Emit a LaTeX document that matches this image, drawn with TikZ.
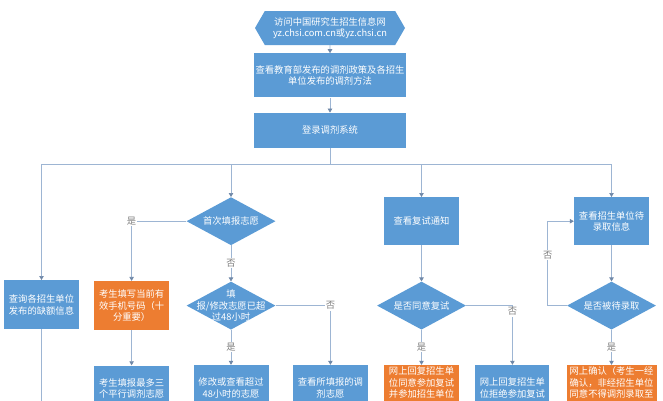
\documentclass[tikz,border=0pt]{standalone}
\usepackage{fontspec}
\setmainfont{Noto Sans CJK SC}
\usepackage{tikz}
\usetikzlibrary{shapes.geometric, shapes.symbols, arrows.meta, positioning, calc}
\definecolor{myblue}{HTML}{5B9BD5}
\definecolor{myorange}{HTML}{ED7D31}
\definecolor{myline}{HTML}{9DB5D3}
\definecolor{mytip}{HTML}{6F88A8}
\definecolor{mygray}{HTML}{7F7F7F}
\tikzstyle{startsite} = [signal, signal to=west and east, signal pointer angle=120, minimum width=150pt, minimum height=34pt, inner sep=0pt, align=center, fill=myblue, text=white]
\tikzstyle{process} = [rectangle, minimum width=75pt, minimum height=49pt, text width=73pt, inner sep=0pt, align=center, fill=myblue, text=white]
\tikzstyle{notice} = [process, fill=myorange]
\tikzstyle{decision} = [diamond, minimum width=89pt, minimum height=48pt, inner sep=0pt, fill=myblue]
\tikzstyle{dtext} = [text=white, align=center, inner sep=0pt]
\tikzstyle{arrow} = [line width=0.7pt, draw=myline, -{Triangle[length=4pt,width=4.5pt,color=mytip]}]
\tikzstyle{link} = [line width=0.7pt, draw=myline]
\tikzstyle{answer} = [fill=white, text=mygray, inner sep=1pt]
\begin{document}
\begin{tikzpicture}[x=1pt, y=1pt, node distance=15pt, font=\fontsize{9.3}{11.5}\selectfont]
    \useasboundingbox (0,0) rectangle (663,-400);
    \clip (0,0) rectangle (663,-400);
    \node (site) [startsite] at (330,-28) {访问中国研究生招生信息网\\yz.chsi.com.cn或yz.chsi.cn};
    \node (policy) [process, minimum width=152pt, text width=150pt, minimum height=44pt, below=8pt of site] {查看教育部发布的调剂政策及各招生\\单位发布的调剂方法};
    \node (login) [process, minimum width=152pt, text width=150pt, minimum height=35pt, below=15pt of policy] {登录调剂系统};
    \coordinate (bus) at ($(login.south)+(0,-16)$);
    % first row under the bus
    \node (quota) [process, below=132pt of login, xshift=-288.5pt] {查询各招生单位\\发布的缺额信息};
    \node (first) [decision, below=49pt of login, xshift=-99pt, label={[dtext]center:首次填报志愿}] {};
    \node (retest) [process, minimum height=48pt, below=49pt of login, xshift=91.5pt] {查看复试通知};
    \node (admit) [process, minimum height=48pt, below=49pt of login, xshift=281.5pt] {查看招生单位待\\录取信息};
    % decisions
    \node (second) [decision, below=36pt of first, label={[dtext]center:填\\报/修改志愿已超\\过48小时}] {};
    \node (phone) [notice, left=17pt of second] {考生填写当前有\\效手机号码（十\\分重要）};
    \node (third) [decision, below=36pt of retest, label={[dtext]center:是否同意复试}] {};
    \node (fourth) [decision, below=36pt of admit, label={[dtext]center:是否被待录取}] {};
    % bottom row
    \node (parallel) [process, minimum height=46pt, below=35pt of phone] {考生填报最多三\\个平行调剂志愿};
    \node (modify) [process, minimum height=46pt, below=35pt of second] {修改或查看超过\\48小时的志愿};
    \node (view) [process, minimum height=46pt, right=24pt of modify] {查看所填报的调\\剂志愿};
    \node (agree) [notice, minimum height=46pt, below=35pt of third] {网上回复招生单\\位同意参加复试\\并参加招生单位\\\mbox{}};
    \node (refuse) [process, minimum height=46pt, text width=72pt, minimum width=74pt, right=16pt of agree] {网上回复招生单\\位拒绝参加复试};
    \node (confirm) [notice, minimum height=46pt, minimum width=90pt, text width=88pt, below=35pt of fourth] {网上确认（考生一经\\确认，非经招生单位\\同意不得调剂录取至\\\mbox{}};
    \coordinate (quotaout) at ($(quota.south)+(0,-100)$);

    \draw[arrow] (site) -- (policy);
    \draw[arrow] (policy) -- (login);
    \draw[link] (login) -- (bus);
    \draw[arrow] (bus) -| (quota);
    \draw[arrow] (bus) -| (first);
    \draw[arrow] (bus) -| (retest);
    \draw[arrow] (bus) -| (admit);
    \draw[link] (quota) -- (quotaout);
    \draw[arrow] (first) -| node[answer, pos=0.5] {是} (phone);
    \draw[arrow] (first) -- node[answer] {否} (second);
    \draw[arrow] (phone) -- (parallel);
    \draw[arrow] (second) -- node[answer] {是} (modify);
    \draw[arrow] (second) -| node[answer, pos=0.5] {否} (view);
    \draw[arrow] (retest) -- (third);
    \draw[arrow] (third) -- node[answer] {是} (agree);
    \draw[arrow] (third) -| node[answer, pos=0.55] {否} (refuse);
    \draw[arrow] (admit) -- (fourth);
    \draw[arrow] (fourth) -- node[answer] {是} (confirm);
    \draw[arrow] (fourth.west) -- ++(-19,0) |- node[answer, pos=0.3] {否} (admit.west);
\end{tikzpicture}
\end{document}
